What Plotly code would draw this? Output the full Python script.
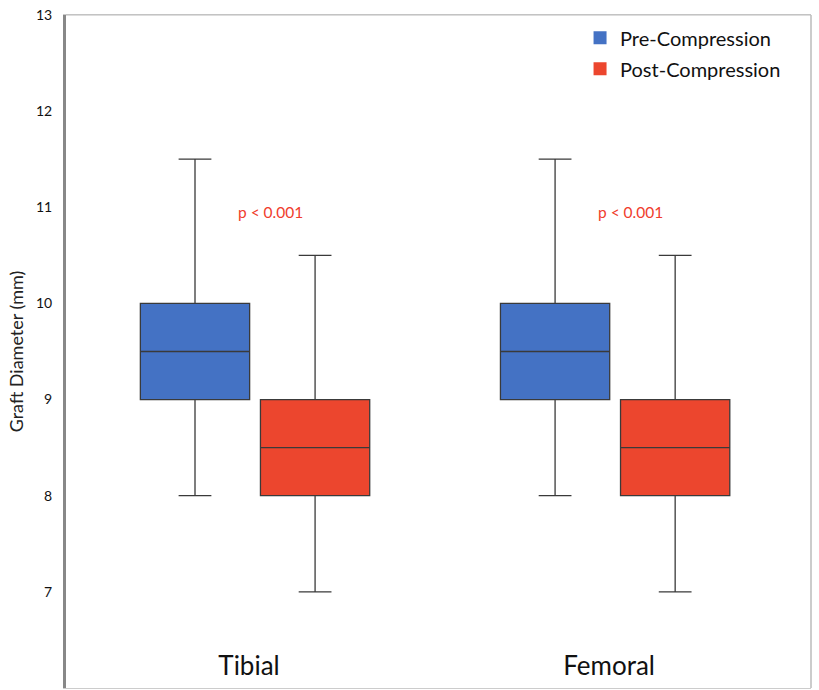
import plotly.graph_objects as go

categories = ["Tibial", "Femoral"]
series_names = ["Pre-Compression", "Post-Compression"]
pre_lower = [8, 8]
pre_q1 = [9, 9]
pre_median = [9.5, 9.5]
pre_q3 = [10, 10]
pre_upper = [11.5, 11.5]
post_lower = [7, 7]
post_q1 = [8, 8]
post_median = [8.5, 8.5]
post_q3 = [9, 9]
post_upper = [10.5, 10.5]
p_labels = ["p < 0.001", "p < 0.001"]
p_label_y = [10.95, 10.95]
y_ticks = [6, 7, 8, 9, 10, 11, 12, 13]

colors = ["#4472C4", "#EC462E"]
font = "Lato, 'Open Sans', sans-serif"

fig = go.Figure()
for name, color, lo, q1, med, q3, up in [
    (series_names[0], colors[0], pre_lower, pre_q1, pre_median, pre_q3, pre_upper),
    (series_names[1], colors[1], post_lower, post_q1, post_median, post_q3, post_upper),
]:
    fig.add_trace(go.Box(
        name=name, x=categories, lowerfence=lo, q1=q1, median=med, q3=q3, upperfence=up,
        fillcolor=color, line=dict(color="#3a3a3a", width=1.3), whiskerwidth=0.3,
        boxpoints=False, hoverinfo="skip", showlegend=False, legendgroup=name,
    ))
for name, color in zip(series_names, colors):
    fig.add_trace(go.Scatter(
        x=[None], y=[None], mode="markers", name=name, legendgroup=name,
        marker=dict(symbol="square", size=13, color=color),
    ))

for cat, txt, yv in zip(categories, p_labels, p_label_y):
    fig.add_annotation(x=cat, y=yv, text=txt, showarrow=False, xshift=15,
                       font=dict(family=font, size=15.5, color="#F03C2C"))

fig.update_layout(
    width=819, height=690,
    margin=dict(l=66, r=8, t=15, b=2),
    paper_bgcolor="white", plot_bgcolor="white",
    boxmode="group", boxgap=0.333, boxgroupgap=0.09,
    font=dict(family=font, color="#222"),
    legend=dict(x=0.69, y=0.995, xanchor="left", yanchor="top",
                font=dict(size=20, color="#111"), bgcolor="rgba(0,0,0,0)",
                tracegroupgap=2),
    showlegend=True,
)
fig.update_xaxes(
    type="category", categoryorder="array", categoryarray=categories,
    range=[-0.525, 1.544], ticklabelposition="inside", ticklabelstandoff=10,
    ticklabelshift=-6, ticks="",
    tickfont=dict(size=26, color="#111"), showgrid=False, zeroline=False,
    showline=True, linecolor="#cccccc", linewidth=1, mirror=True, automargin=False,
)
fig.update_yaxes(
    range=[6, 13], tickvals=y_ticks, ticks="", showgrid=False, zeroline=False,
    tickfont=dict(size=14, color="#111"), ticklabelstandoff=8, automargin=False,
    ticklabeloverflow="allow",
    title=dict(text="Graft Diameter (mm)", font=dict(size=18, color="#222"), standoff=8),
    showline=True, linecolor="#888888", linewidth=3,
)
fig.add_shape(type="line", xref="paper", yref="paper", x0=1, x1=1, y0=0, y1=1,
              line=dict(color="#999999", width=1))
fig.add_shape(type="line", xref="paper", yref="paper", x0=0, x1=1, y0=1, y1=1,
              line=dict(color="#bbbbbb", width=1))

fig.write_html("out.html", config={"displayModeBar": False},
               post_script="document.body.style.margin='0';")
